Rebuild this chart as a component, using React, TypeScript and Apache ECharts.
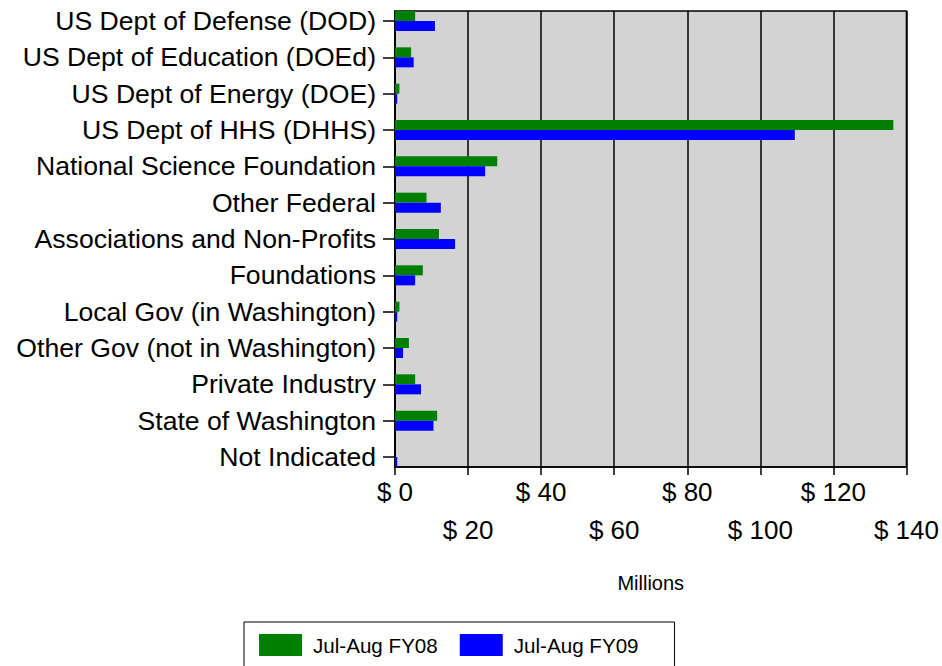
import React, { useEffect, useRef } from 'react';
import * as echarts from 'echarts';

const categories = [
  'US Dept of Defense (DOD)',
  'US Dept of Education (DOEd)',
  'US Dept of Energy (DOE)',
  'US Dept of HHS (DHHS)',
  'National Science Foundation',
  'Other Federal',
  'Associations and Non-Profits',
  'Foundations',
  'Local Gov (in Washington)',
  'Other Gov (not in Washington)',
  'Private Industry',
  'State of Washington',
  'Not Indicated',
];
const seriesNames = ['Jul-Aug FY08', 'Jul-Aug FY09'];
const fy08 = [5.5, 4.4, 1.2, 136, 27.9, 8.6, 12.0, 7.6, 1.2, 3.8, 5.5, 11.5, 0];
const fy09 = [10.9, 5.1, 0.6, 109.1, 24.6, 12.5, 16.4, 5.5, 0.6, 2.2, 7.1, 10.5, 0.6];
const xMin = 0;
const xMax = 140;
const xStep = 20;
const xAxisTitle = 'Millions';

const FONT = '"Liberation Sans", Arial, Helvetica, sans-serif';

export default function App() {
  const ref = useRef<HTMLDivElement>(null);
  useEffect(() => {
    if (!ref.current) return;
    const chart = echarts.init(ref.current, undefined, { renderer: 'svg' });
    chart.setOption({
      animation: false,
      backgroundColor: '#ffffff',
      textStyle: { fontFamily: FONT },
      grid: [
        {
          left: 395, right: 34, top: 11, bottom: 199,
          show: true, backgroundColor: '#d3d3d3', borderColor: '#000', borderWidth: 1.5,
        },
        { left: 395, right: 34, top: 21, bottom: 209 },
      ],
      xAxis: [
        {
          type: 'value', gridIndex: 0, min: xMin, max: xMax, interval: xStep,
          axisLine: { show: true, lineStyle: { color: '#000', width: 1.5 } },
          axisTick: { show: true, length: 8, inside: false, lineStyle: { color: '#000', width: 1.5 } },
          splitLine: { show: true, lineStyle: { color: '#000', width: 1.5 } },
          axisLabel: {
            margin: 12,
            color: '#000',
            fontFamily: FONT,
            fontSize: 26,
            formatter: (v: number) => (Math.round(v / xStep) % 2 === 0 ? `{a|$ ${v}}` : `{b|$ ${v}}`),
            rich: {
              a: { fontSize: 26, fontFamily: FONT, color: '#000' },
              b: { fontSize: 26, fontFamily: FONT, color: '#000', padding: [38, 0, 0, 0] },
            },
          },
          name: xAxisTitle,
          nameLocation: 'middle',
          nameGap: 106,
          nameTextStyle: { fontSize: 20, color: '#000', fontFamily: FONT },
        },
        { type: 'value', gridIndex: 1, min: xMin, max: xMax, show: false },
      ],
      yAxis: [
        {
          type: 'value', gridIndex: 0, min: 0, max: 1,
          axisLine: { show: true, lineStyle: { color: '#000', width: 1.5 } },
          axisTick: { show: false }, axisLabel: { show: false }, splitLine: { show: false },
        },
        {
          type: 'category', gridIndex: 1, data: categories, inverse: true, boundaryGap: false,
          axisLine: { show: false },
          axisTick: { show: true, length: 12, inside: false, lineStyle: { color: '#000', width: 1.5 } },
          axisLabel: { margin: 19, color: '#000', fontSize: 26.6, fontFamily: FONT, interval: 0 },
          splitLine: { show: false },
        },
      ],
      legend: {
        left: 244, top: 622,
        data: seriesNames,
        icon: 'rect',
        itemWidth: 43, itemHeight: 22, itemGap: 22,
        borderColor: '#000', borderWidth: 1,
        padding: [12, 36, 14, 15],
        textStyle: { fontSize: 20.6, color: '#000', fontFamily: FONT, padding: [0, 0, 0, 6] },
      },
      series: [
        {
          name: seriesNames[0], type: 'bar', xAxisIndex: 1, yAxisIndex: 1, data: fy08,
          barWidth: 10, barGap: '0%', itemStyle: { color: '#008000' },
        },
        {
          name: seriesNames[1], type: 'bar', xAxisIndex: 1, yAxisIndex: 1, data: fy09,
          barWidth: 10, barGap: '0%', itemStyle: { color: '#0000ff' },
        },
      ],
    });
    return () => chart.dispose();
  }, []);
  return <div ref={ref} style={{ position: 'fixed', left: 0, top: 0, width: 942, height: 666 }} />;
}
